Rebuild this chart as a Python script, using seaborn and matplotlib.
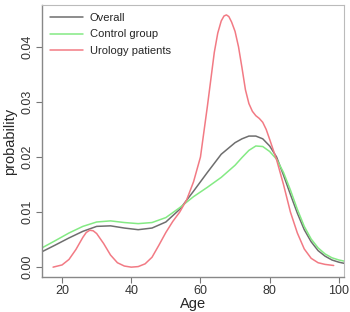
import pandas as pd
import matplotlib
matplotlib.use("Agg")
import matplotlib.pyplot as plt
import seaborn as sns

# values
overall_age = [14.2, 18, 22, 26, 30, 34, 38, 42, 46, 50, 54, 58, 62, 66, 70, 72, 74,
               76, 78, 80, 82, 84, 86, 88, 90, 92, 94, 96, 98, 100, 101.5]
overall_p = [0.0028, 0.0040, 0.0053, 0.0065, 0.0074, 0.0075, 0.0071, 0.0068, 0.0071,
             0.0082, 0.0105, 0.0138, 0.0172, 0.0205, 0.0226, 0.0233, 0.0238, 0.0238,
             0.0233, 0.0220, 0.0200, 0.0167, 0.0132, 0.0098, 0.0068, 0.0046, 0.0030,
             0.0020, 0.0013, 0.0009, 0.0007]

control_age = [14.2, 18, 22, 26, 30, 34, 38, 42, 46, 50, 54, 58, 62, 66, 70, 72, 74,
               76, 78, 80, 82, 84, 86, 88, 90, 92, 94, 96, 98, 100, 101.5]
control_p = [0.0035, 0.0048, 0.0062, 0.0074, 0.0082, 0.0084, 0.0081, 0.0079, 0.0081,
             0.0090, 0.0108, 0.0128, 0.0145, 0.0163, 0.0185, 0.0199, 0.0212, 0.0220,
             0.0219, 0.0210, 0.0196, 0.0172, 0.0140, 0.0105, 0.0074, 0.0051, 0.0035,
             0.0024, 0.0017, 0.0013, 0.0011]

urology_age = [17.4, 20, 22, 24, 26, 27, 28, 29, 30, 32, 34, 36, 38, 40, 42, 44, 46,
               48, 50, 52, 54, 56, 58, 60, 62, 64, 65, 66, 66.8, 67.5, 68.2, 69, 70,
               71, 72, 73, 74, 75, 76, 77, 78, 79, 80, 82, 84, 86, 88, 90, 92, 94,
               96, 98.5]
urology_p = [0.0000, 0.0004, 0.0014, 0.0032, 0.0054, 0.0063, 0.0067, 0.0066, 0.0061,
             0.0043, 0.0022, 0.0008, 0.0002, 0.0000, 0.0001, 0.0006, 0.0018, 0.0040,
             0.0063, 0.0083, 0.0100, 0.0122, 0.0155, 0.0200, 0.0292, 0.0390, 0.0425,
             0.0447, 0.0456, 0.0458, 0.0455, 0.0445, 0.0428, 0.0400, 0.0362, 0.0322,
             0.0297, 0.0283, 0.0275, 0.0270, 0.0263, 0.0250, 0.0232, 0.0195, 0.0150,
             0.0100, 0.0062, 0.0033, 0.0016, 0.0008, 0.0005, 0.0003]

groups = ["Overall", "Control group", "Urology patients"]
colors = {"Overall": "#6e6e6e", "Control group": "#84ea84", "Urology patients": "#f27a84"}

df = pd.concat([
    pd.DataFrame({"Age": overall_age, "probability": overall_p, "group": groups[0]}),
    pd.DataFrame({"Age": control_age, "probability": control_p, "group": groups[1]}),
    pd.DataFrame({"Age": urology_age, "probability": urology_p, "group": groups[2]}),
])

sns.set_style("white")
plt.rcParams["font.family"] = ["Liberation Sans", "DejaVu Sans"]

fig = plt.figure(figsize=(3.5, 3.12), dpi=100)
ax = fig.add_axes([0.12, 0.112, 0.863, 0.872])

sns.lineplot(data=df, x="Age", y="probability", hue="group", hue_order=groups,
             palette=colors, linewidth=1.1, ax=ax)

ax.set_xlim(14.2, 101.5)
ax.set_ylim(-0.0018, 0.0476)
ax.set_xticks([20, 40, 60, 80, 100])
ax.set_yticks([0.0, 0.01, 0.02, 0.03, 0.04])
ax.set_yticklabels(["0.00", "0.01", "0.02", "0.03", "0.04"], rotation=90, va="center")
ax.tick_params(axis="both", direction="out", length=4, width=0.8, color="#777777",
               labelsize=9, labelcolor="#333333", pad=2, bottom=True, left=True)
ax.set_xlabel("Age", fontsize=10.5, labelpad=0)
ax.set_ylabel("probability", fontsize=10.5, labelpad=3)

for side in ["left", "bottom"]:
    ax.spines[side].set_color("#888888")
    ax.spines[side].set_linewidth(1.0)
for side in ["top", "right"]:
    ax.spines[side].set_color("#bbbbbb")
    ax.spines[side].set_linewidth(0.8)

ax.legend(loc="upper left", frameon=False, fontsize=8, handlelength=3,
          handletextpad=0.6, labelspacing=0.6, borderaxespad=0.3,
          bbox_to_anchor=(0.0, 1.0))

fig.savefig("out.png", dpi=100)
